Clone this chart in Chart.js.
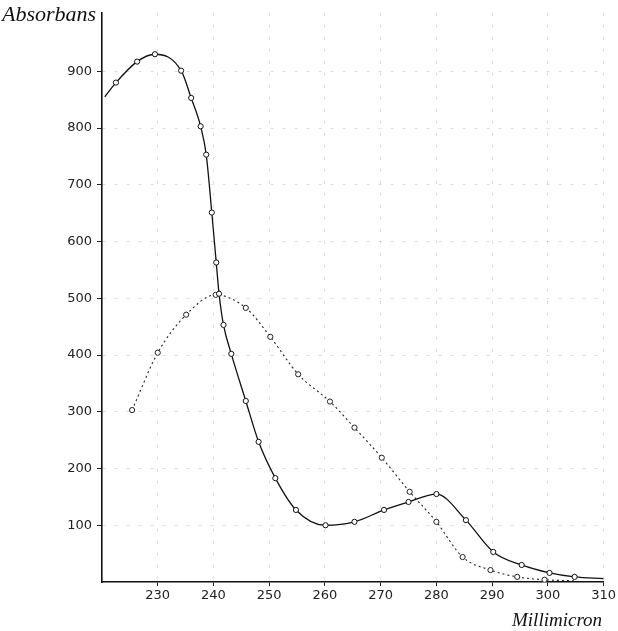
<!DOCTYPE html>
<html>
<head>
<meta charset="utf-8">
<script src="https://cdn.jsdelivr.net/npm/chart.js@4.4.1/dist/chart.umd.min.js"></script>
<style>
  html, body { margin: 0; padding: 0; background: #fff; }
  #wrap { position: relative; width: 618px; height: 631px; }
  canvas { position: absolute; left: 0; top: 0; }
  .lbl { position: absolute; font-family: "Liberation Serif", serif; font-style: italic; color: #111; white-space: nowrap; }
  #ylab { left: 2px; top: 2px; font-size: 22px; line-height: 24px; }
  #xlab { left: 512px; top: 609px; font-size: 19px; line-height: 22px; }
</style>
</head>
<body>
<div id="wrap">
  <canvas id="c" width="618" height="631"></canvas>
  <div class="lbl" id="ylab">Absorbans</div>
  <div class="lbl" id="xlab">Millimicron</div>
</div>
<script>
// Curve 1 (solid line)
const curve1X = [220.5, 222.5, 226.3, 229.5, 234.2, 236.0, 237.7, 238.7, 239.7, 240.5, 241.0, 241.8, 243.2, 245.8, 248.1, 251.1, 254.8, 260.1, 265.3, 270.6, 275.0, 280.0, 285.3, 290.2, 295.3, 300.3, 304.8, 310.0];
const curve1Y = [855, 880, 917, 930, 901, 853, 803, 753, 651, 563, 508, 453, 402, 319, 247, 183, 127, 100, 106, 127, 141, 155, 109, 53, 30, 16, 9, 6];
// Curve 2 (dotted line)
const curve2X = [225.4, 230.0, 235.1, 240.4, 245.8, 250.2, 255.2, 260.9, 265.3, 270.2, 275.2, 280.0, 284.7, 289.7, 294.5, 299.4, 305.0];
const curve2Y = [303, 404, 471, 506, 483, 432, 366, 318, 272, 219, 159, 106, 44, 21, 9, 4, 2];
// Axis ticks
const xTickValues = [230, 240, 250, 260, 270, 280, 290, 300, 310];
const yTickValues = [100, 200, 300, 400, 500, 600, 700, 800, 900];

const pts = (xs, ys) => xs.map((x, i) => ({ x: x, y: ys[i] }));

new Chart(document.getElementById('c'), {
  type: 'line',
  data: {
    datasets: [
      {
        data: pts(curve1X, curve1Y),
        borderColor: '#111',
        borderWidth: 1.3,
        pointRadius: ctx => (ctx.dataIndex === 0 || ctx.dataIndex === curve1X.length - 1) ? 0 : 2.6,
        pointBackgroundColor: '#fff',
        pointBorderColor: '#111',
        pointBorderWidth: 1,
        cubicInterpolationMode: 'monotone',
        fill: false
      },
      {
        data: pts(curve2X, curve2Y),
        borderColor: '#222',
        borderWidth: 1.1,
        borderDash: [2, 3],
        pointRadius: ctx => (ctx.dataIndex === curve2X.length - 1) ? 0 : 2.6,
        pointBackgroundColor: '#fff',
        pointBorderColor: '#222',
        pointBorderWidth: 1,
        cubicInterpolationMode: 'monotone',
        fill: false
      }
    ]
  },
  options: {
    responsive: false,
    animation: false,
    layout: { padding: { left: 0, right: 8, top: 1, bottom: 0 } },
    plugins: { legend: { display: false }, tooltip: { enabled: false } },
    scales: {
      x: {
        type: 'linear',
        min: 220,
        max: 310,
        afterBuildTicks: s => { s.ticks = xTickValues.map(v => ({ value: v })); },
        afterFit: s => { s.height = 49; },
        ticks: {
          color: '#222',
          font: { family: 'DejaVu Sans', size: 13 },
          padding: 2,
          maxRotation: 0,
          autoSkip: false
        },
        grid: { color: 'rgba(0,0,0,0.13)', tickColor: '#222', tickLength: 4, lineWidth: 1 },
        border: { display: true, color: '#111', width: 1.6, dash: [3, 9] }
      },
      y: {
        type: 'linear',
        min: 0,
        max: 1003,
        afterBuildTicks: s => { s.ticks = yTickValues.map(v => ({ value: v })); },
        afterFit: s => { s.width = 102; },
        ticks: {
          color: '#222',
          font: { family: 'DejaVu Sans', size: 13 },
          padding: 5
        },
        grid: { color: 'rgba(0,0,0,0.13)', tickColor: '#222', tickLength: 5, lineWidth: 1 },
        border: { display: true, color: '#111', width: 1.6, dash: [3, 9] }
      }
    }
  }
});
</script>
</body>
</html>
